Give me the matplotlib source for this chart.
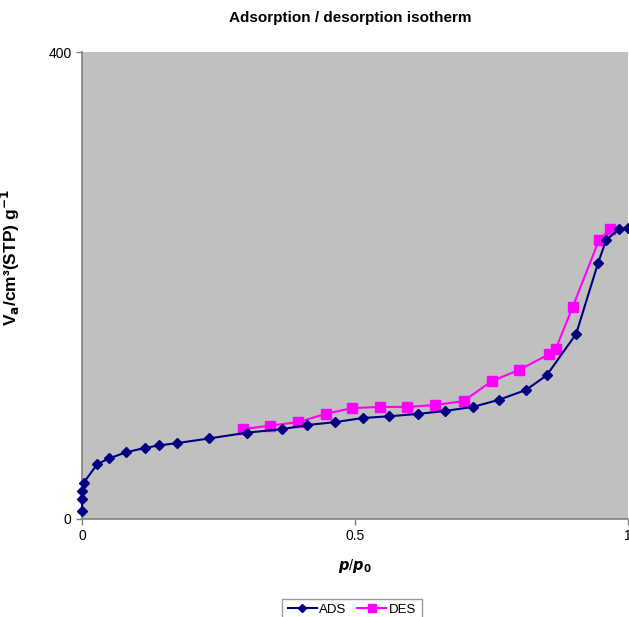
import matplotlib
matplotlib.use('Agg')
import matplotlib.pyplot as plt

plt.rcParams['font.family'] = ['Liberation Sans', 'DejaVu Sans']

# adsorption branch
ads_p = [0.0, 0.0, 0.0, 0.003, 0.028, 0.05, 0.08, 0.116, 0.141, 0.174, 0.233, 0.303,
         0.367, 0.413, 0.464, 0.514, 0.563, 0.615, 0.664, 0.716, 0.763, 0.813, 0.851,
         0.905, 0.945, 0.960, 0.983, 1.0]
ads_v = [7, 17, 24, 31, 47, 52, 57, 61, 63, 65, 69, 74,
         77, 80.5, 83, 86.5, 88, 90, 92.5, 96, 102, 110.5, 123,
         158.5, 219, 239, 248, 249]
# desorption branch
des_p = [0.295, 0.345, 0.396, 0.446, 0.495, 0.545, 0.596, 0.646, 0.699, 0.750,
         0.800, 0.855, 0.868, 0.899, 0.947, 0.967]
des_v = [77, 80, 83, 90, 95, 96, 96, 97.6, 101, 118,
         127.6, 141, 146, 182, 239, 248]

fig = plt.figure(figsize=(6.29, 6.17), dpi=100)
ax = fig.add_axes([82/629, 1-519/617, 546/629, 467/617])
ax.set_facecolor('#C0C0C0')

ax.plot(ads_p, ads_v, color='#000080', lw=1.5, marker='D', ms=5.5, label='ADS', clip_on=False, zorder=3)
ax.plot(des_p, des_v, color='#FF00FF', lw=1.5, marker='s', ms=7, label='DES', clip_on=False, zorder=2)

ax.set_xlim(0, 1)
ax.set_ylim(0, 400)
ax.set_xticks([0, 0.5, 1])
ax.set_xticklabels(['0', '0.5', '1'])
ax.set_yticks([0, 400])
ax.tick_params(labelsize=10, length=4, color='#808080', width=1)
for s in ['top', 'right']:
    ax.spines[s].set_visible(False)
for s in ['left', 'bottom']:
    ax.spines[s].set_color('#808080')
    ax.spines[s].set_linewidth(1.2)

ax.set_xlabel(r'$\bfit{p}$/$\bfit{p}_\mathbf{0}$', fontsize=10.5, labelpad=10)
ax.set_ylabel('V$_\\mathbf{a}$/cm³(STP) g$^\\mathbf{-1}$', fontsize=12.5, fontweight='bold')
ax.yaxis.set_label_coords((22-82)/546, (519-258)/467)
fig.text(350/629, 1-18/617, 'Adsorption / desorption isotherm', ha='center', va='center',
         fontsize=11, fontweight='bold')

leg = fig.legend(loc='upper center', bbox_to_anchor=(352/629, 1-592/617), ncol=2, fontsize=9.5,
                 frameon=True, fancybox=False, edgecolor='#808080', handlelength=2.2,
                 columnspacing=0.8, handletextpad=0.2, borderpad=0.4, markerscale=0.75)
leg.get_frame().set_linewidth(1)

fig.savefig('out.png', dpi=100)
